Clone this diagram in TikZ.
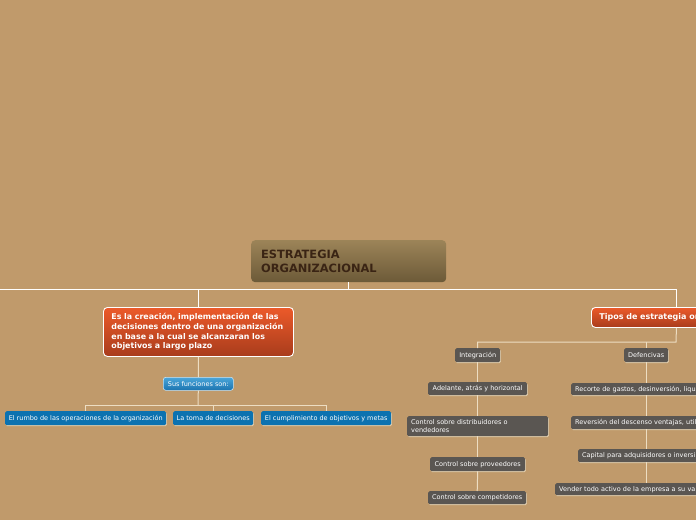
\documentclass[tikz,border=0pt]{standalone}
\usepackage{fontspec}
\setmainfont{DejaVu Sans}
\usetikzlibrary{shadows}
\definecolor{bgc}{HTML}{C09A6B}
\definecolor{roottop}{HTML}{9C8458}
\definecolor{rootbot}{HTML}{6C5A38}
\definecolor{roottext}{HTML}{3A2414}
\definecolor{ortop}{HTML}{EC5A2A}
\definecolor{orbot}{HTML}{A83C1C}
\definecolor{bltop}{HTML}{4AA6DA}
\definecolor{blbot}{HTML}{1C74B0}
\definecolor{blleaf}{HTML}{0C72B0}
\definecolor{grayb}{HTML}{5A5652}
\definecolor{shade}{HTML}{E2D0B0}
\definecolor{lnlow}{HTML}{EDDDC2}
\tikzset{
  rootbox/.style={rounded corners=4pt, top color=roottop, bottom color=rootbot, draw=none,
     text=roottext, font=\fontsize{11.4}{14}\selectfont\bfseries, align=left, inner ysep=0pt, inner xsep=10pt, anchor=north west},
  orbox/.style={rounded corners=4pt, top color=ortop, bottom color=orbot, draw=white, line width=0.9pt,
     text=white, font=\fontsize{7.9}{9.7}\selectfont\bfseries, align=left, inner ysep=0pt, inner xsep=8pt, anchor=north west},
  susbox/.style={rounded corners=2.5pt, top color=bltop, bottom color=blbot, draw=white!70!bltop, line width=0.6pt,
     text=white, font=\fontsize{6.5}{7.5}\selectfont, inner sep=0pt, anchor=north west},
  leafbox/.style={rounded corners=1.5pt, fill=blleaf, draw=none,
     drop shadow={shadow xshift=0.6pt, shadow yshift=-1pt, fill=shade, opacity=0.9},
     text=white, font=\fontsize{6.5}{7.5}\selectfont, inner sep=0pt, anchor=north west},
  graybox/.style={rounded corners=1.5pt, fill=grayb, draw=none,
     drop shadow={shadow xshift=0.6pt, shadow yshift=-1pt, fill=shade, opacity=0.9},
     text=white, font=\fontsize{6.5}{7.6}\selectfont, inner sep=0pt, anchor=north west},
  topline/.style={draw=white, line width=1pt},
  lowline/.style={draw=lnlow, line width=1pt},
}
\begin{document}
\begin{tikzpicture}[x=1pt,y=-1pt]
\useasboundingbox (0,0) rectangle (696,520);
\fill[bgc] (0,0) rectangle (696,520);
\clip (0,0) rectangle (696,520);

% root
\node[rootbox, minimum width=195pt, minimum height=42pt, text width=175pt] (root) at (251,240)
  {ESTRATEGIA\\ORGANIZACIONAL};

% left branch
\node[orbox, minimum width=190pt, minimum height=49pt, text width=174pt] (def) at (103,307)
  {Es la creación, implementación de las\\decisiones dentro de una organización\\en base a la cual se alcanzaran los\\objetivos a largo plazo};
\node[susbox, minimum width=70pt, minimum height=13pt] (sus) at (163,377) {Sus funciones son:};
\node[leafbox, minimum width=161pt, minimum height=14pt] (l1) at (5,411) {El rumbo de las operaciones de la organización};
\node[leafbox, minimum width=80pt, minimum height=14pt] (l2) at (173,411) {La toma de decisiones};
\node[leafbox, minimum width=130pt, minimum height=14pt] (l3) at (261,411) {El cumplimiento de objetivos y metas};

% right branch
\node[orbox, font=\fontsize{8}{10}\selectfont\bfseries, minimum width=170pt, minimum height=20pt, text width=154pt] (tipos) at (591,307)
  {Tipos de estrategia or};
\node[graybox, minimum width=45pt, minimum height=14pt] (integ) at (455,348) {Integración};
\node[graybox, minimum width=44pt, minimum height=14pt] (defen) at (624,348) {Defencivas};

\node[graybox, minimum width=99pt, minimum height=13pt] (adel) at (428,382) {Adelante, atrás y horizontal};
\node[graybox, minimum width=141pt, minimum height=20pt, text width=133pt, align=left, inner xsep=4pt] (dist) at (407,416)
  {Control sobre distribuidores o\\vendedores};
\node[graybox, minimum width=95pt, minimum height=14pt] (prov) at (430,457) {Control sobre proveedores};
\node[graybox, minimum width=98pt, minimum height=13pt] (comp) at (428,491) {Control sobre competidores};

\node[graybox, minimum width=150pt, minimum height=12pt, text width=142pt, align=left, inner xsep=4pt] (reco) at (571,383)
  {Recorte de gastos, desinversión, liqui};
\node[graybox, minimum width=150pt, minimum height=13pt, text width=142pt, align=left, inner xsep=4pt] (reve) at (571,416)
  {Reversión del descenso ventajas, util};
\node[graybox, minimum width=136pt, minimum height=13pt, text width=128pt, align=left, inner xsep=4pt] (capi) at (578,449)
  {Capital para adquisidores o inversi};
\node[graybox, minimum width=182pt, minimum height=12pt, text width=174pt, align=left, inner xsep=4pt] (vend) at (555,483)
  {Vender todo activo de la empresa a su va};

% connectors
\coordinate (hl) at (0,289);
\coordinate (rj) at (676,342);
\coordinate (lj) at (198,405);
\draw[topline] (root.south) -- (root.south |- hl);
\draw[topline] (hl) -| (tipos.north);
\draw[topline] (hl -| def.north) -- (def.north);

\draw[lowline] (def.south) -- (sus.north);
\draw[lowline] (sus.south) -- (lj);
\draw[lowline] (l1.north) -- (l1.north |- lj) -- (l3.north |- lj) -- (l3.north);
\draw[lowline] (l2.north |- lj) -- (l2.north);

\draw[lowline] (tipos.south) -- (rj) -| (integ.north);
\draw[lowline] (rj -| defen.north) -- (defen.north);

\draw[lowline] (integ.south) -- (adel.north);
\draw[lowline] (adel.south) -- (dist.north);
\draw[lowline] (dist.south) -- (prov.north);
\draw[lowline] (prov.south) -- (comp.north);

\draw[lowline] (defen.south) -- (reco.north);
\draw[lowline] (reco.south) -- (reve.north);
\draw[lowline] (reve.south) -- (capi.north);
\draw[lowline] (capi.south) -- (vend.north);
\end{tikzpicture}
\end{document}
